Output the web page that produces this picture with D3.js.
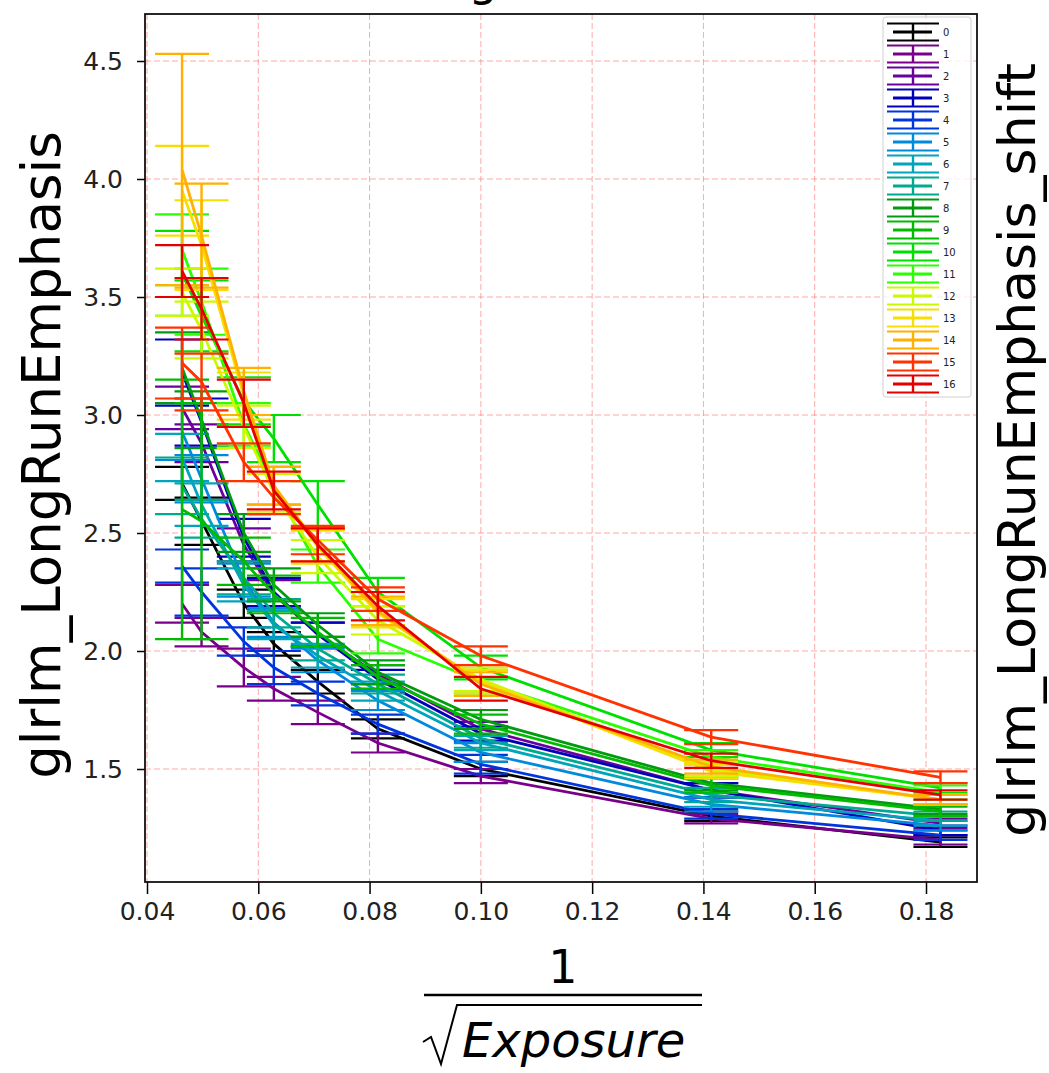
<!DOCTYPE html>
<html><head><meta charset="utf-8">
<script src="https://cdn.jsdelivr.net/npm/d3@7"></script>
<style>body{margin:0;background:#fff}svg{display:block}</style>
</head><body><svg id="c" width="1049" height="1073"></svg>
<script>
// ---- data ----
const xValues = [0.0463, 0.0498, 0.0574, 0.0628, 0.0707, 0.0815, 0.1000, 0.1414, 0.1826];
const xTicks = [0.04, 0.06, 0.08, 0.10, 0.12, 0.14, 0.16, 0.18];
const yTicks = [1.5, 2.0, 2.5, 3.0, 3.5, 4.0, 4.5];
const seriesLabels = ["0","1","2","3","4","5","6","7","8","9","10","11","12","13","14","15","16"];
const seriesColors = ["#000000","#79008a","#6a009d","#0000bb","#0035dd","#008add","#00a4bb","#00aa90",
  "#009b0f","#00bb00","#00e000","#29ff00","#ccf900","#f6df00","#ffb000","#ff3300","#e50000"];

const v0  = [2.71, 2.55, 2.20, 2.03, 1.87, 1.67, 1.50, 1.30, 1.19];
const e0  = [0.07, 0.10, 0.06, 0.05, 0.05, 0.04, 0.03, 0.02, 0.02];
const v1  = [2.20, 2.08, 1.93, 1.84, 1.74, 1.61, 1.47, 1.29, 1.20];
const e1  = [0.08, 0.06, 0.08, 0.05, 0.05, 0.04, 0.03, 0.02, 0.02];
const v2  = [3.03, 2.88, 2.45, 2.24, 2.07, 1.90, 1.67, 1.41, 1.27];
const e2  = [0.09, 0.08, 0.07, 0.06, 0.05, 0.04, 0.03, 0.03, 0.02];
const v3  = [3.18, 2.97, 2.48, 2.25, 2.07, 1.88, 1.65, 1.41, 1.24];
const e3  = [0.14, 0.10, 0.08, 0.06, 0.05, 0.04, 0.03, 0.03, 0.02];
const v4  = [2.36, 2.25, 2.04, 1.93, 1.82, 1.69, 1.52, 1.31, 1.22];
const e4  = [0.07, 0.10, 0.06, 0.07, 0.05, 0.04, 0.04, 0.02, 0.02];
const v5  = [2.93, 2.73, 2.30, 2.12, 1.96, 1.79, 1.57, 1.35, 1.26];
const e5  = [0.12, 0.10, 0.07, 0.06, 0.05, 0.04, 0.04, 0.03, 0.02];
const v6  = [2.82, 2.62, 2.28, 2.11, 1.98, 1.83, 1.61, 1.37, 1.28];
const e6  = [0.10, 0.09, 0.07, 0.06, 0.05, 0.04, 0.03, 0.03, 0.02];
const v7  = [2.70, 2.56, 2.31, 2.16, 2.01, 1.86, 1.63, 1.39, 1.30];
const e7  = [0.12, 0.08, 0.07, 0.06, 0.05, 0.04, 0.04, 0.03, 0.02];
const v8  = [3.20, 2.98, 2.50, 2.28, 2.11, 1.91, 1.71, 1.44, 1.33];
const e8  = [0.15, 0.12, 0.08, 0.07, 0.05, 0.05, 0.04, 0.03, 0.02];
const v9  = [2.60, 2.55, 2.38, 2.24, 2.08, 1.89, 1.69, 1.43, 1.32];
const e9  = [0.55, 0.50, 0.10, 0.08, 0.06, 0.05, 0.04, 0.03, 0.02];
const v10 = [3.60, 3.42, 3.06, 2.90, 2.62, 2.25, 1.93, 1.58, 1.42];
const e10 = [0.18, 0.15, 0.10, 0.10, 0.10, 0.06, 0.05, 0.03, 0.02];
const v11 = [3.70, 3.48, 2.96, 2.70, 2.36, 2.05, 1.87, 1.55, 1.40];
const e11 = [0.15, 0.14, 0.09, 0.08, 0.07, 0.06, 0.05, 0.03, 0.03];
const v12 = [3.52, 3.36, 2.95, 2.67, 2.40, 2.13, 1.88, 1.50, 1.37];
const e12 = [0.10, 0.12, 0.09, 0.08, 0.07, 0.06, 0.05, 0.03, 0.02];
const v13 = [3.95, 3.72, 3.08, 2.70, 2.44, 2.16, 1.87, 1.49, 1.37];
const e13 = [0.19, 0.19, 0.10, 0.08, 0.07, 0.06, 0.05, 0.03, 0.02];
const v14 = [4.04, 3.76, 3.10, 2.70, 2.45, 2.17, 1.86, 1.51, 1.37];
const e14 = [0.49, 0.22, 0.10, 0.08, 0.07, 0.06, 0.05, 0.03, 0.02];
const v15 = [3.22, 3.14, 2.80, 2.65, 2.47, 2.22, 1.98, 1.635, 1.465];
const e15 = [0.15, 0.12, 0.08, 0.07, 0.06, 0.05, 0.04, 0.03, 0.025];
const v16 = [3.61, 3.45, 3.05, 2.68, 2.45, 2.19, 1.84, 1.535, 1.39];
const e16 = [0.11, 0.13, 0.10, 0.08, 0.07, 0.06, 0.05, 0.03, 0.02];

const seriesValues = [v0,v1,v2,v3,v4,v5,v6,v7,v8,v9,v10,v11,v12,v13,v14,v15,v16];
const seriesErrors = [e0,e1,e2,e3,e4,e5,e6,e7,e8,e9,e10,e11,e12,e13,e14,e15,e16];

// ---- layout ----
const svg = d3.select("#c");
const L = 145, R = 977, T = 14, B = 882;
const FONT = "DejaVu Sans, sans-serif";
const x = d3.scaleLinear().domain([0.04, 0.18]).range([147, 926]);
const y = d3.scaleLinear().domain([1.5, 4.5]).range([769, 61]);

svg.append("rect").attr("width",1049).attr("height",1073).attr("fill","#fff");

// title sits above the canvas; only the descender of its "g" shows
svg.append("text").attr("x",483).attr("y",-5).attr("text-anchor","middle")
  .attr("font-family",FONT).attr("font-size",46).attr("fill","#000").text("g");

// grid
const grid = svg.append("g").attr("stroke","#ff6f6f").attr("stroke-opacity",0.6)
  .attr("stroke-width",1).attr("stroke-dasharray","6,3");
xTicks.forEach(t => grid.append("line").attr("x1",x(t)).attr("x2",x(t)).attr("y1",T).attr("y2",B));
yTicks.forEach(t => grid.append("line").attr("x1",L).attr("x2",R).attr("y1",y(t)).attr("y2",y(t)));

svg.append("clipPath").attr("id","plot").append("rect").attr("x",L).attr("y",T).attr("width",R-L).attr("height",B-T);
const plot = svg.append("g").attr("clip-path","url(#plot)");

const CAP = 27;
const line = d3.line().x((d,i)=>x(xValues[i])).y(d=>y(d));
seriesValues.forEach((vals, s) => {
  const c = seriesColors[s], errs = seriesErrors[s];
  const g = plot.append("g");
  g.append("path").attr("d", line(vals)).attr("fill","none").attr("stroke",c).attr("stroke-width",2.8);
  vals.forEach((v,i) => {
    const cx = x(xValues[i]), y0 = y(v - errs[i]), y1 = y(v + errs[i]);
    g.append("line").attr("x1",cx).attr("x2",cx).attr("y1",y0).attr("y2",y1).attr("stroke",c).attr("stroke-width",2.4);
    [y0,y1].forEach(yy => g.append("line").attr("x1",cx-CAP).attr("x2",cx+CAP).attr("y1",yy).attr("y2",yy)
      .attr("stroke",c).attr("stroke-width",2.2));
  });
});

// axes
const xAxis = d3.axisBottom(x).tickValues(xTicks).tickFormat(d3.format(".2f")).tickSize(12).tickPadding(8);
const gx = svg.append("g").attr("transform",`translate(0,${B})`).call(xAxis);
const yAxis = d3.axisLeft(y).tickValues(yTicks).tickFormat(d3.format(".1f")).tickSize(8).tickPadding(14);
const gy = svg.append("g").attr("transform",`translate(${L},0)`).call(yAxis);
[gx,gy].forEach(g => {
  g.select(".domain").remove();
  g.selectAll(".tick line").attr("stroke","#000").attr("stroke-width",1.5);
  g.selectAll(".tick text").attr("font-family",FONT).attr("font-size",25).attr("fill","#222");
});

// frame
svg.append("rect").attr("x",L).attr("y",T).attr("width",R-L).attr("height",B-T)
  .attr("fill","none").attr("stroke","#111").attr("stroke-width",1.8);

// legend
const lg = svg.append("g");
lg.append("rect").attr("x",883).attr("y",17).attr("width",88).attr("height",380).attr("rx",3)
  .attr("fill","#fff").attr("fill-opacity",0.8).attr("stroke","#d0d0d0").attr("stroke-width",1);
seriesLabels.forEach((lab, s) => {
  const cy = 32 + s*22, c = seriesColors[s];
  lg.append("line").attr("x1",893).attr("x2",932).attr("y1",cy).attr("y2",cy).attr("stroke",c).attr("stroke-width",2.8);
  lg.append("line").attr("x1",913).attr("x2",913).attr("y1",cy-8.5).attr("y2",cy+8.5).attr("stroke",c).attr("stroke-width",2.4);
  [cy-8.5, cy+8.5].forEach(yy => lg.append("line").attr("x1",887).attr("x2",939).attr("y1",yy).attr("y2",yy)
    .attr("stroke",c).attr("stroke-width",2.2));
  lg.append("text").attr("x",943).attr("y",cy+4).attr("font-family",FONT).attr("font-size",10)
    .attr("fill","#222").text(lab);
});

// y labels
svg.append("text").attr("transform","translate(60,455) rotate(-90)").attr("text-anchor","middle")
  .attr("font-family",FONT).attr("font-size",53).attr("fill","#000").text("glrlm_LongRunEmphasis");
svg.append("text").attr("transform","translate(1035,450) rotate(-90)").attr("text-anchor","middle")
  .attr("font-family",FONT).attr("font-size",52).attr("fill","#000").text("glrlm_LongRunEmphasis_shift");

// x label: 1 / sqrt(Exposure)
svg.append("text").attr("x",563).attr("y",983).attr("text-anchor","middle")
  .attr("font-family",FONT).attr("font-size",46).attr("fill","#000").text("1");
svg.append("line").attr("x1",424).attr("x2",702).attr("y1",995).attr("y2",995).attr("stroke","#000").attr("stroke-width",2.5);
svg.append("path").attr("d","M423,1042 L431,1037 L441,1064 L457,1005 L702,1005")
  .attr("fill","none").attr("stroke","#000").attr("stroke-width",2);
svg.append("text").attr("x",462).attr("y",1057).attr("font-family",FONT).attr("font-style","italic")
  .attr("font-size",48).attr("fill","#000").text("Exposure");
</script></body></html>
